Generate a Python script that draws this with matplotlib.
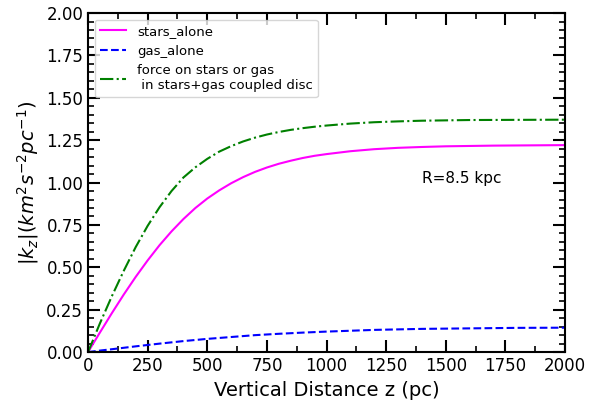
import numpy as np
import matplotlib
matplotlib.use("Agg")
import matplotlib.pyplot as plt
from matplotlib.ticker import MultipleLocator

# vertical distance z (pc) and |K_z|
z_stars = [0, 50, 100, 150, 200, 250, 300, 350, 400, 450, 500, 550, 600, 650,
           700, 750, 800, 850, 900, 950, 1000, 1100, 1200, 1300, 1400, 1500,
           1600, 1700, 1800, 1900, 2000]
k_stars = [0.0, 0.116, 0.230, 0.340, 0.444, 0.541, 0.631, 0.712, 0.785, 0.850,
           0.906, 0.954, 0.996, 1.032, 1.063, 1.089, 1.111, 1.129, 1.145, 1.158,
           1.168, 1.185, 1.197, 1.205, 1.210, 1.214, 1.216, 1.218, 1.219, 1.220,
           1.221]

z_gas = [0, 50, 100, 200, 300, 400, 500, 600, 700, 800, 900, 1000, 1200, 1400,
         1600, 1800, 2000]
k_gas = [0.0, 0.009, 0.017, 0.034, 0.050, 0.065, 0.078, 0.089, 0.100, 0.108,
         0.115, 0.121, 0.131, 0.137, 0.140, 0.143, 0.144]

z_coupled = [0, 50, 100, 150, 200, 250, 300, 350, 400, 450, 500, 550, 600, 650,
             700, 750, 800, 850, 900, 950, 1000, 1100, 1200, 1300, 1400, 1500,
             1600, 1800, 2000]
k_coupled = [0.0, 0.17, 0.33, 0.48, 0.62, 0.745, 0.855, 0.95, 1.03, 1.09,
             1.14, 1.1825, 1.215, 1.2425, 1.265, 1.2835, 1.2985, 1.311, 1.321,
             1.3295, 1.3365, 1.348, 1.356, 1.361, 1.365, 1.367, 1.369, 1.370,
             1.371]

fig = plt.figure(figsize=(6.05, 4.08), dpi=100)
ax = fig.add_axes([0.1455, 0.137, 0.7885, 0.831])

ax.plot(z_stars, k_stars, color="magenta", ls="-", lw=1.5, label="stars_alone")
ax.plot(z_gas, k_gas, color="blue", ls="--", lw=1.5, label="gas_alone")
ax.plot(z_coupled, k_coupled, color="green", ls="-.", lw=1.5,
        label="force on stars or gas\n in stars+gas coupled disc")

ax.text(1400, 1.0, "R=8.5 kpc", fontsize=11)

ax.set_xlim(0, 2000)
ax.set_ylim(0, 2.0)
ax.xaxis.set_major_locator(MultipleLocator(250))
ax.xaxis.set_minor_locator(MultipleLocator(125))
ax.yaxis.set_major_locator(MultipleLocator(0.25))
ax.yaxis.set_minor_locator(MultipleLocator(0.05))
ax.tick_params(which="both", direction="in", top=True, right=True, labelsize=12)
ax.tick_params(which="major", length=8.5, width=1.5)
ax.tick_params(which="minor", length=4, width=1.2)
for sp in ax.spines.values():
    sp.set_linewidth(1.5)

ax.set_xlabel("Vertical Distance z (pc)", fontsize=14)
ax.set_ylabel(r"$|k_z|(km^2s^{-2}pc^{-1})$", fontsize=14)
ax.legend(loc="upper left", fontsize=9.5)

fig.savefig("out.png")
